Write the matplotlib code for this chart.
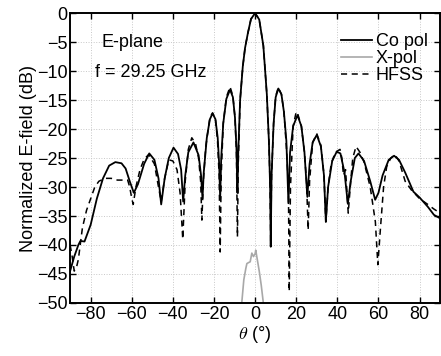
import matplotlib
matplotlib.use("Agg")
import matplotlib.pyplot as plt

plt.rcParams['font.family'] = ['Liberation Sans', 'DejaVu Sans']
plt.rcParams['mathtext.fontset'] = 'cm'

# measured co-pol pattern
co_theta = [-90, -88, -86, -85, -83, -80, -77, -74, -71, -68, -65, -63, -61, -59, -57,
            -54, -51.5, -49, -47, -45.7, -44, -42, -39.7, -37.5, -36, -35, -34, -32.5,
            -30, -27.5, -26.3, -25.6, -25, -23.5, -22, -20.7, -19.3, -18.2, -17.5, -17,
            -16.5, -15.5, -14, -12.2, -10.8, -9.8, -9.1, -8.6, -8.2, -7.3, -6, -4.9,
            -3.5, -2, 0, 2, 4, 5.7, 6.7, 7.3, 7.6, 8.0, 9, 10, 11.3, 12.8, 14, 15.2,
            16.2, 17, 18.5, 20.6, 22.5, 24, 25.4, 26.5, 28, 30, 32, 33.5, 34.4, 35.5,
            37.5, 39.7, 41.5, 43.5, 45.1, 46.5, 48.5, 50.3, 53, 56, 58.4, 60, 62, 65,
            67.6, 70, 73, 77, 80, 84, 87, 90]
co_db = [-44.5, -42, -40, -39.3, -39.4, -36.5, -32, -28.5, -26.3, -25.7, -25.9, -26.8,
         -29, -31, -29.5, -26, -24.2, -25.3, -28.5, -33, -28.5, -25, -23.2, -24.3, -27,
         -32.5, -28, -24, -22.3, -24.5, -28, -32, -27.5, -21.5, -18.3, -17.3, -18.3,
         -21.5, -26, -32, -25, -19, -14.8, -13.2, -14.5, -18, -23, -31, -24, -15, -9.2,
         -6.0, -3.4, -1.0, 0, -1.1, -5.6, -14, -22, -30, -40.3, -28, -19, -14.5, -13, -14,
         -17, -22, -32.8, -24, -19.5, -17.6, -19.5, -24, -31.7, -26, -22.3, -21, -23,
         -28, -36, -30, -25.5, -23.9, -24.2, -27.5, -32.9, -29, -25, -24.2, -25.5, -29,
         -32.2, -31, -28, -25.3, -24.6, -25.3, -27.5, -30.8, -31.8, -33.4, -34.8, -35.4]

# cross-pol
x_theta = [-6.5, -5.5, -4.5, -4, -3, -2.4, -1.6, -0.8, 0, 0.3, 1.1, 2, 3, 4]
x_db = [-50, -46, -44, -43.2, -43, -42.9, -41.4, -42, -41.5, -40.9, -42.6, -44.5, -47, -50]

# HFSS simulation
hf_theta = [-90, -89, -88, -87, -86, -84, -82, -80, -78, -76, -73, -70, -67, -64, -62,
            -61, -60, -59.3, -58, -56, -54, -51.8, -49, -47, -45.7, -44, -42, -40, -38,
            -36.5, -35.2, -34, -32.5, -30.8, -29, -27.5, -26.5, -25.9, -25.2, -24, -22,
            -20.7, -19.3, -18.3, -17.5, -17, -16.5, -15.5, -14, -12.2, -10.8, -9.8, -9.1,
            -8.6, -8.2, -7.3, -6, -4.9, -3.5, -2, 0, 2, 4, 5.7, 6.7, 7.3, 7.6, 8, 9, 10,
            11.3, 12.8, 14, 15.2, 16.2, 16.6, 17.2, 18.5, 20, 20.6, 22.5, 24, 25, 25.8,
            26.5, 28, 30, 32, 33.5, 34.4, 35.5, 37, 39, 41.3, 42.2, 43, 44, 45.3, 46.5,
            47.5, 49.1, 51, 53, 56, 58.5, 59.7, 61, 62.5, 64, 66, 68, 70, 73, 76, 80, 84,
            87, 90]
hf_db = [-40, -42, -44.5, -44, -42.5, -37, -34, -32, -30, -29, -28.5, -28.5, -28.8, -28.8,
         -28.8, -30, -32, -33, -30, -27, -25.2, -24.4, -26, -30, -32.5, -28.5, -25.3,
         -25.5, -27, -31, -39, -29, -23.5, -21.5, -22.5, -25, -29, -35.7, -29, -23, -18,
         -17.2, -18.3, -22, -28, -41.2, -28, -19, -14.5, -12.7, -14.3, -18, -24, -38.6,
         -26, -15, -9.2, -6.0, -3.4, -1.0, 0, -1.1, -5.6, -14, -22, -30, -40, -28, -19,
         -14.3, -12.8, -14, -17, -23, -30, -48, -30, -19.5, -17, -17.2, -19.5, -24, -29,
         -37.4, -29, -22.3, -20.8, -22.8, -28, -36, -30, -26, -24, -23.5, -25, -28, -27,
         -34.5, -29, -25, -23, -24, -25.7, -30, -36, -43.4, -37, -30, -26.5, -25, -24.4,
         -25.5, -29, -30.5, -32, -33, -33.8, -34.5]

fig = plt.figure(figsize=(4.41, 3.56), dpi=100)
ax = fig.add_axes([0.159, 0.149, 0.839, 0.814])

ax.plot(co_theta, co_db, color='black', lw=1.3, label='Co pol')
ax.plot(x_theta, x_db, color='#a8a8a8', lw=1.2, label='X-pol')
ax.plot(hf_theta, hf_db, color='black', lw=1.1, ls=(0, (4, 3)), label='HFSS')

ax.set_xlim(-90, 90)
ax.set_ylim(-50, 0)
ax.set_xticks(range(-80, 81, 20))
ax.set_yticks(range(-50, 1, 5))
ax.grid(True, ls=':', color='#c8c8c8', lw=0.7)
ax.tick_params(direction='in', top=True, right=True, length=4, width=1, labelsize=13, pad=2)
for s in ax.spines.values():
    s.set_linewidth(1.4)

ax.set_xlabel(r'$\theta$ (°)', fontsize=13, labelpad=1)
ax.set_ylabel('Normalized E-field (dB)', fontsize=13, labelpad=0)

ax.text(-74.5, -5, 'E-plane', fontsize=13, va='center')
ax.text(-77.8, -10.2, 'f = 29.25 GHz', fontsize=13, va='center')

ax.legend(loc='upper left', bbox_to_anchor=(0.733, 0.93), frameon=False, fontsize=13,
          handlelength=1.7, handletextpad=0.2, labelspacing=0.0, borderpad=0, borderaxespad=0)

fig.savefig('out.png', dpi=100)
